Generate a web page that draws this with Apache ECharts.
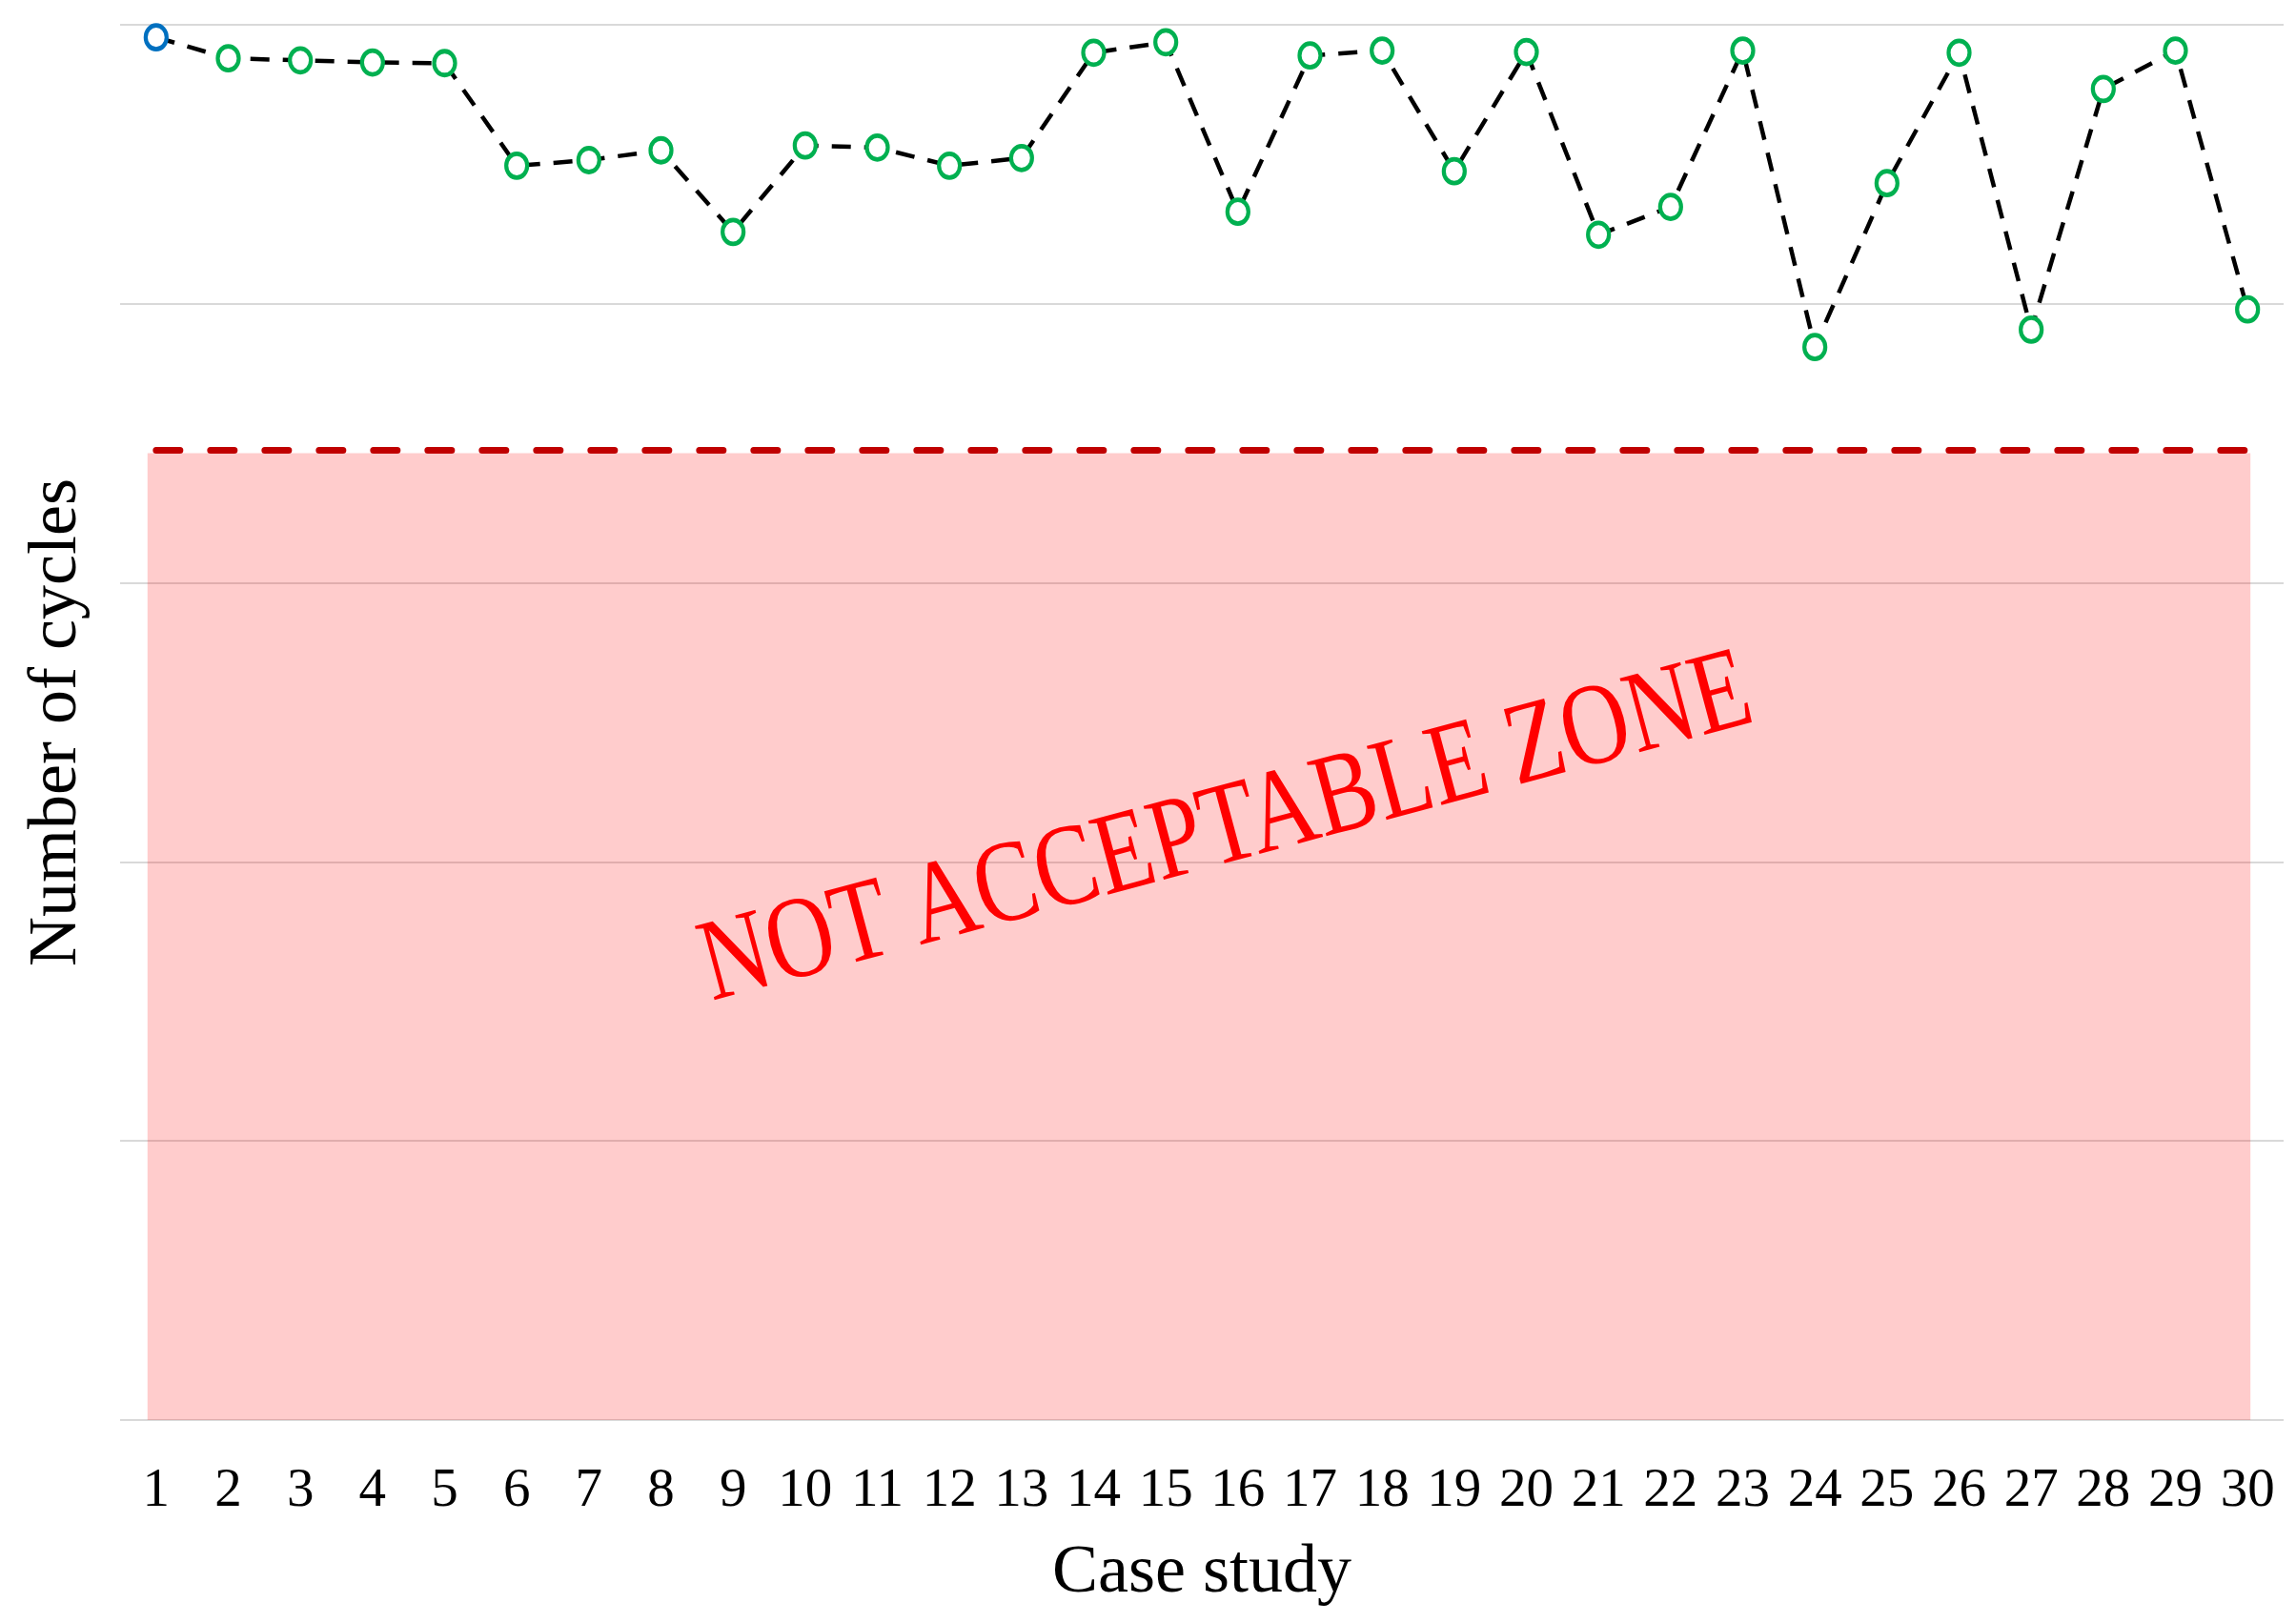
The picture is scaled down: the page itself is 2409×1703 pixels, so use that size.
<!DOCTYPE html>
<html>
<head>
<meta charset="utf-8">
<script src="https://cdn.jsdelivr.net/npm/echarts@6/dist/echarts.min.js"></script>
<style>
  html, body { margin: 0; padding: 0; background: #ffffff; }
  #chart { width: 2409px; height: 1703px; }
</style>
</head>
<body>
<div id="chart"></div>
<script>
// ---- data (y axis has no printed scale) ----
const caseStudies = ['1','2','3','4','5','6','7','8','9','10','11','12','13','14','15',
                     '16','17','18','19','20','21','22','23','24','25','26','27','28','29','30'];
const cycles = [991, 976, 974.5, 973, 972.5, 899, 903, 910, 851.5, 913.5,
                912, 899, 904.5, 980, 987.5, 866, 978, 981.5, 895, 980.5,
                849.5, 869.5, 981.5, 769, 886.5, 980, 781.5, 954, 981.5, 796];
const yTicks = [0, 200, 400, 600, 800, 1000];
const threshold = 695;          // red dashed limit
const zoneTop = 693;            // top of the "not acceptable" area
const zoneStart = 0.88;         // case-study extent of the shaded area
const zoneEnd = 30.04;
const lineStart = 1;            // case-study extent of the limit line
const lineEnd = 30;
const zoneText = 'NOT ACCEPTABLE ZONE';

const chart = echarts.init(document.getElementById('chart'), null, { renderer: 'canvas' });

const serif = '"Liberation Serif", "Times New Roman", serif';

const option = {
  animation: false,
  backgroundColor: '#ffffff',
  grid: { left: 126, right: 13, top: 26, bottom: 213, containLabel: false },
  xAxis: [
    {
      type: 'category',
      data: caseStudies,
      boundaryGap: true,
      name: 'Case study',
      nameLocation: 'middle',
      nameGap: 125,
      nameTextStyle: { fontFamily: serif, fontSize: 72, color: '#000' },
      axisLine: { show: false },
      axisTick: { show: false },
      splitLine: { show: false },
      axisLabel: { fontFamily: serif, fontSize: 57, color: '#000', margin: 47, interval: 0 }
    },
    {
      type: 'value',
      min: 0.5,
      max: 30.5,
      show: false,
      splitLine: { show: false }
    }
  ],
  yAxis: {
    type: 'value',
    min: yTicks[0],
    max: yTicks[yTicks.length - 1],
    interval: yTicks[1] - yTicks[0],
    name: 'Number of cycles',
    nameLocation: 'middle',
    nameGap: 30,
    nameTextStyle: { fontFamily: serif, fontSize: 72, color: '#000' },
    axisLine: { show: false },
    axisTick: { show: false },
    axisLabel: { show: false },
    splitLine: { show: true, lineStyle: { color: '#d9d9d9', width: 2 } }
  },
  series: [
    {
      type: 'line',
      xAxisIndex: 1,
      data: [],
      z: 1,
      silent: true,
      markArea: {
        silent: true,
        itemStyle: { color: 'rgba(255,0,0,0.2)' },
        data: [[{ coord: [zoneStart, 0] }, { coord: [zoneEnd, zoneTop] }]]
      },
      markLine: {
        silent: true,
        symbol: ['none', 'none'],
        label: { show: false },
        lineStyle: { color: '#C00000', width: 7, type: [25, 32], cap: 'round' },
        data: [[{ coord: [lineStart, threshold] }, { coord: [lineEnd, threshold] }]]
      }
    },
    {
      type: 'line',
      z: 5,
      data: cycles.map((v, i) => i === 0
        ? { value: v, itemStyle: { color: '#ffffff', borderColor: '#0070C0' } }
        : v),
      symbol: 'circle',
      symbolSize: [22, 25],
      showAllSymbol: true,
      lineStyle: { color: '#000000', width: 4.5, type: [20, 14] },
      itemStyle: { color: '#ffffff', borderColor: '#00B050', borderWidth: 4.5 }
    }
  ],
  graphic: [
    {
      type: 'text',
      x: 1287,
      y: 872,
      rotation: 15 * Math.PI / 180,
      scaleY: 1.25,
      z: 10,
      silent: true,
      style: {
        text: zoneText,
        font: '98px "Liberation Serif", "Times New Roman", serif',
        fill: '#FF0000',
        align: 'center',
        verticalAlign: 'middle'
      }
    }
  ]
};

chart.setOption(option);
</script>
</body>
</html>
